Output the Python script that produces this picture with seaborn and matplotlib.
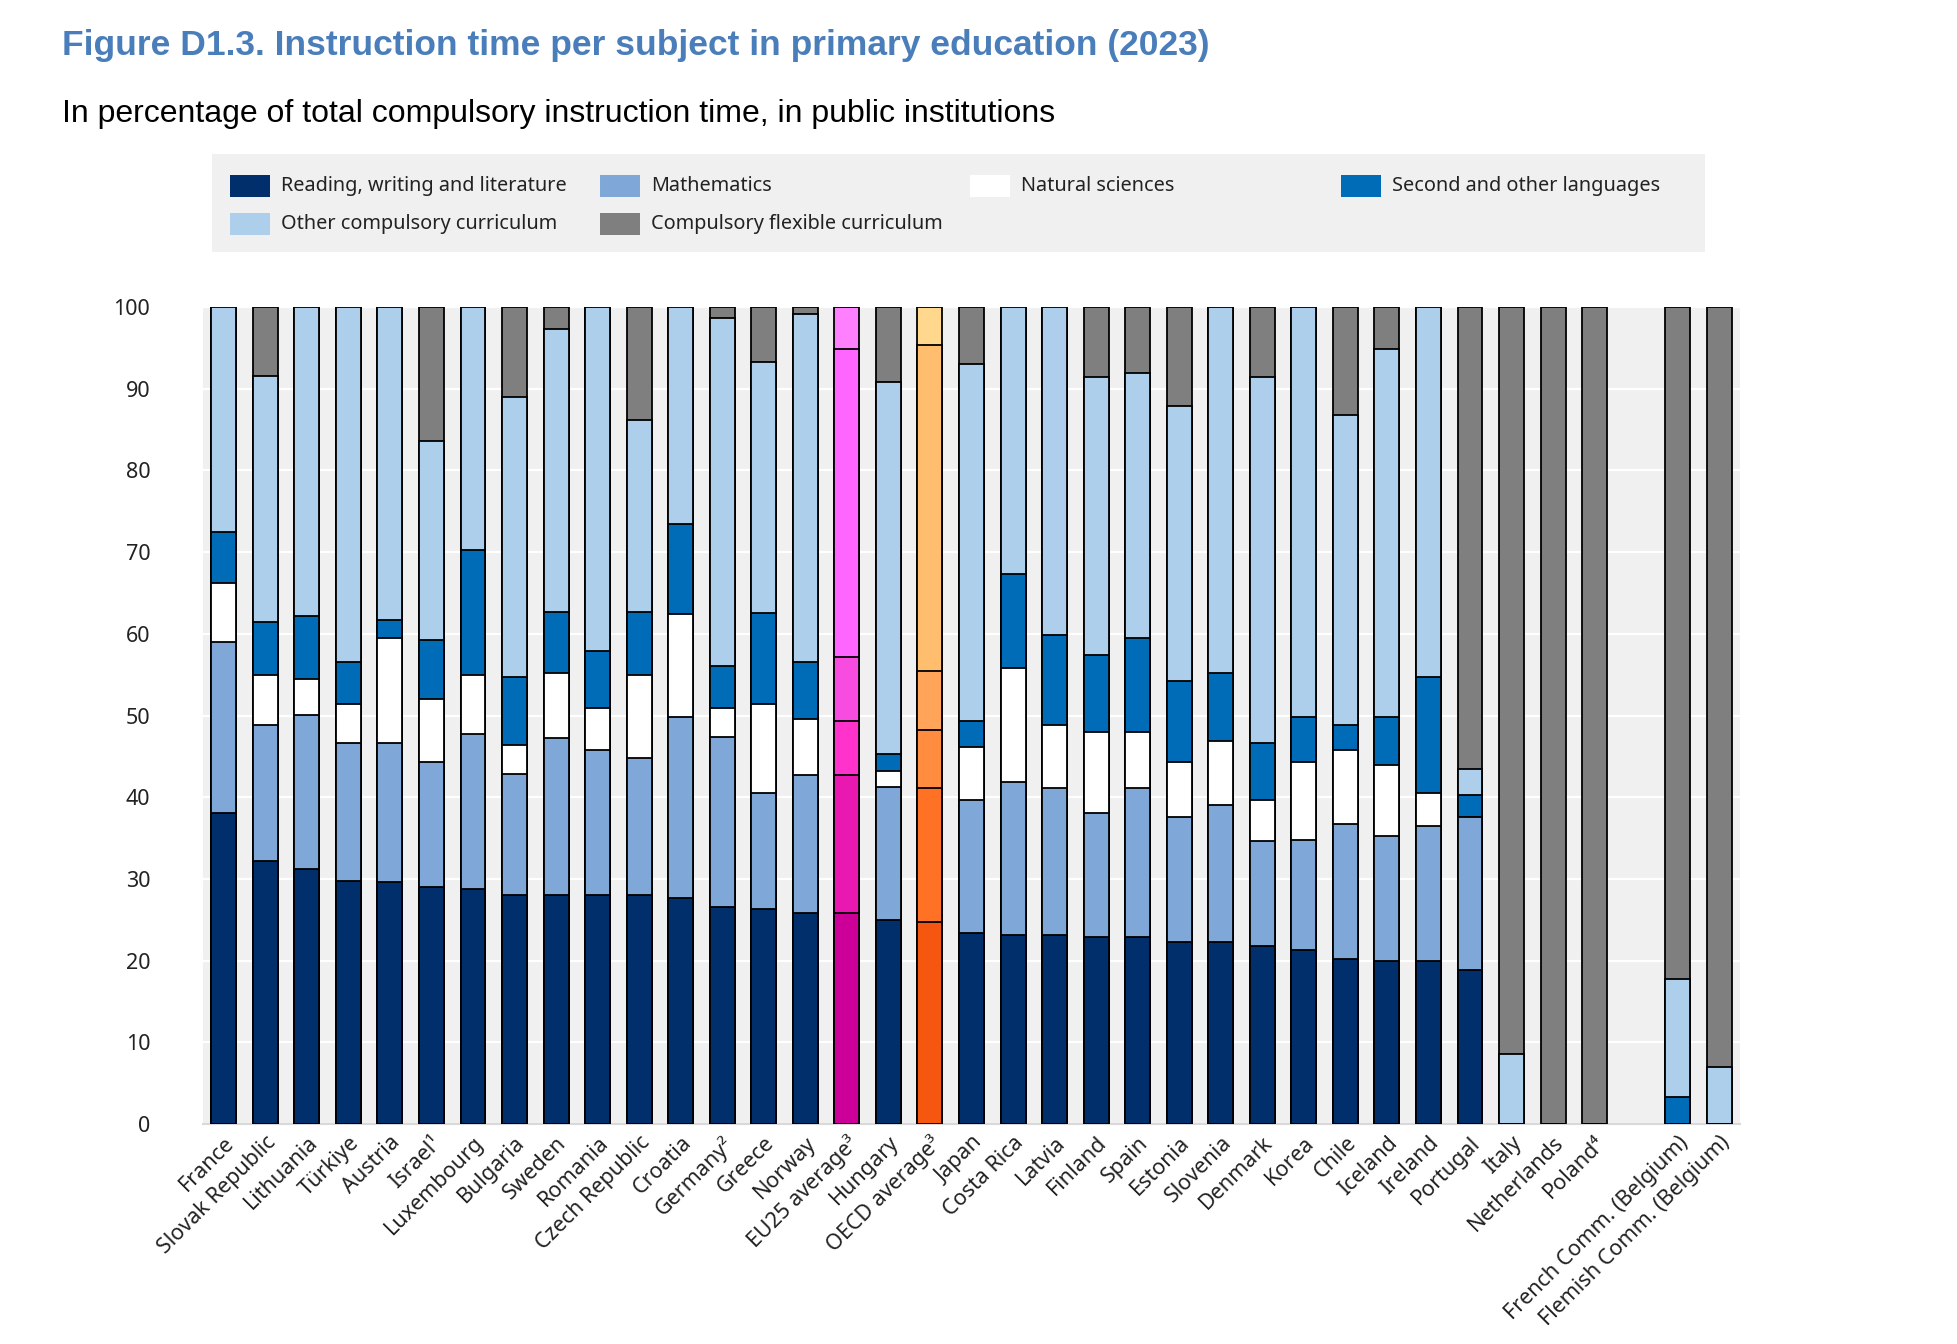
import numpy as np
import pandas as pd
import seaborn as sns
import matplotlib.pyplot as plt
from matplotlib.patches import Rectangle

# --- Data (share of total compulsory instruction time, %) ---
countries = [
    "France", "Slovak Republic", "Lithuania", "Türkiye", "Austria", "Israel¹",
    "Luxembourg", "Bulgaria", "Sweden", "Romania", "Czech Republic", "Croatia",
    "Germany²", "Greece", "Norway", "EU25 average³", "Hungary", "OECD average³",
    "Japan", "Costa Rica", "Latvia", "Finland", "Spain", "Estonia", "Slovenia",
    "Denmark", "Korea", "Chile", "Iceland", "Ireland", "Portugal", "Italy",
    "Netherlands", "Poland⁴", " ", "French Comm. (Belgium)", "Flemish Comm. (Belgium)",
]
nan = np.nan
reading = [38.1, 32.2, 31.2, 29.8, 29.6, 29.0, 28.8, 28.0, 28.0, 28.0, 28.0, 27.7,
           26.6, 26.3, 25.8, 25.8, 25.0, 24.7, 23.4, 23.1, 23.1, 22.9, 22.9, 22.3,
           22.3, 21.8, 21.3, 20.2, 19.9, 19.9, 18.9, 0, 0, 0, nan, 0, 0]
mathematics = [20.9, 16.6, 18.9, 16.8, 17.0, 15.3, 18.9, 14.9, 19.2, 17.8, 16.8, 22.1,
               20.8, 14.2, 16.9, 16.9, 16.3, 16.4, 16.3, 18.8, 18.0, 15.2, 18.2, 15.3,
               16.7, 12.8, 13.5, 16.5, 15.4, 16.6, 18.7, 0, 0, 0, nan, 0, 0]
natural = [7.2, 6.1, 4.4, 4.8, 12.9, 7.7, 7.3, 3.5, 8.0, 5.1, 10.2, 12.6,
           3.5, 10.9, 6.9, 6.6, 1.9, 7.1, 6.4, 13.9, 7.7, 9.9, 6.9, 6.7,
           7.9, 5.1, 9.5, 9.1, 8.6, 4.0, 0, 0, 0, 0, nan, 0, 0]
second_lang = [6.2, 6.6, 7.7, 5.2, 2.2, 7.3, 15.2, 8.3, 7.5, 7.0, 7.7, 11.0,
               5.2, 11.1, 7.0, 7.8, 2.1, 7.3, 3.2, 11.5, 11.0, 9.4, 11.5, 9.9,
               8.3, 6.9, 5.5, 3.0, 5.9, 14.2, 2.7, 0, 0, 0, nan, 3.3, 0]
other = [27.6, 30.1, 37.8, 43.4, 38.3, 24.3, 29.8, 34.3, 34.6, 42.1, 23.5, 26.6,
         42.5, 30.8, 42.5, 37.7, 45.5, 39.9, 43.7, 32.7, 40.2, 34.0, 32.4, 33.7,
         44.8, 44.8, 50.2, 38.0, 45.0, 45.3, 3.2, 8.6, 0, 0, nan, 14.4, 7.0]
flexible = [0, 8.4, 0, 0, 0, 16.4, 0, 11.0, 2.7, 0, 13.8, 0,
            1.4, 6.7, 0.9, 5.2, 9.2, 4.6, 7.0, 0, 0, 8.6, 8.1, 12.1,
            0, 8.6, 0, 13.2, 5.2, 0, 56.5, 91.4, 100, 100, nan, 82.3, 93.0]

series_names = ["Reading, writing and literature", "Mathematics", "Natural sciences",
                "Second and other languages", "Other compulsory curriculum",
                "Compulsory flexible curriculum"]
series_values = [reading, mathematics, natural, second_lang, other, flexible]

# --- Colours ---
base_colors = ["#002F6C", "#7FA8D9", "#FFFFFF", "#006BB6", "#ADCFEB", "#7F7F7F"]
eu_colors = ["#CC0099", "#E818B0", "#FF33CC", "#F84BE0", "#FF66FF", "#FF80FF"]
oecd_colors = ["#F55711", "#FF7124", "#FF8C3F", "#FFA459", "#FFBE6E", "#FFD78D"]
TITLE_BLUE = "#4A7EBB"
PANEL_GREY = "#F0F0F0"

W, H, DPI = 1958, 1344, 100

sns.set_style("white", {"axes.facecolor": PANEL_GREY})
plt.rcParams["font.family"] = ["Noto Sans", "DejaVu Sans"]

fig = plt.figure(figsize=(W / DPI, H / DPI), dpi=DPI)
ax = fig.add_axes([203 / W, 1 - 1124 / H, (1740 - 203) / W, (1124 - 307) / H])

# stack: draw cumulative tops from the highest layer down
df = pd.DataFrame({name: vals for name, vals in zip(series_names, series_values)},
                  index=countries)
cum = df.cumsum(axis=1)

for k in range(len(series_names) - 1, -1, -1):
    palette = {}
    for c in countries:
        if c.startswith("EU25"):
            palette[c] = eu_colors[k]
        elif c.startswith("OECD"):
            palette[c] = oecd_colors[k]
        else:
            palette[c] = base_colors[k]
    layer = pd.DataFrame({"country": countries, "value": cum[series_names[k]].values})
    sns.barplot(data=layer, x="country", y="value", hue="country", palette=palette,
                order=countries, hue_order=countries, width=0.6, saturation=1,
                edgecolor="black", linewidth=1.3, legend=False, ax=ax, zorder=3)

ax.set_ylim(0, 100)
ax.set_xlim(-0.5, len(countries) - 0.5)
ax.set_yticks(range(0, 101, 10))
ax.yaxis.grid(True, color="white", linewidth=1.6, zorder=0)
ax.set_axisbelow(True)
ax.set_xlabel("")
ax.set_ylabel("")
for s in ["top", "right", "left"]:
    ax.spines[s].set_visible(False)
ax.spines["bottom"].set_color("#D9D9D9")
ax.spines["bottom"].set_linewidth(1.5)
ax.tick_params(axis="y", length=0, pad=38, labelsize=15.5, labelcolor="#222222")
ax.tick_params(axis="x", length=0, pad=6, labelsize=15.5, labelcolor="#222222")
for lab in ax.get_yticklabels():
    lab.set_horizontalalignment("right")
ax.set_xticks(range(len(countries)))
ax.set_xticklabels(countries, rotation=45, ha="right", rotation_mode="anchor")

# --- Titles ---
narrow = ["Liberation Sans Narrow", "Liberation Sans", "DejaVu Sans"]
fig.text(62 / W, 1 - 45 / H, "Figure D1.3. Instruction time per subject in primary education (2023)",
         fontsize=25.5, fontweight="bold", color=TITLE_BLUE, family=narrow, va="center", ha="left")
fig.text(62 / W, 1 - 114 / H, "In percentage of total compulsory instruction time, in public institutions",
         fontsize=23, color="black", family=narrow, va="center", ha="left")

# --- Legend box drawn by hand (row-wise, 4 equal columns) ---
fig.add_artist(Rectangle((212 / W, 1 - 252 / H), (1705 - 212) / W, (252 - 154) / H,
                         transform=fig.transFigure, facecolor=PANEL_GREY, edgecolor="none"))
col_x = [230, 600, 970, 1341]
row_y = [186, 224]
for i, name in enumerate(series_names):
    r, c = divmod(i, 4)
    x0, yc = col_x[c], row_y[r]
    fig.add_artist(Rectangle((x0 / W, 1 - (yc + 11) / H), 40 / W, 22 / H,
                             transform=fig.transFigure, facecolor=base_colors[i],
                             edgecolor="none"))
    fig.text((x0 + 51) / W, 1 - yc / H, name, fontsize=14.3, color="#222222",
             va="center", ha="left")

fig.savefig("out.png", dpi=DPI)
